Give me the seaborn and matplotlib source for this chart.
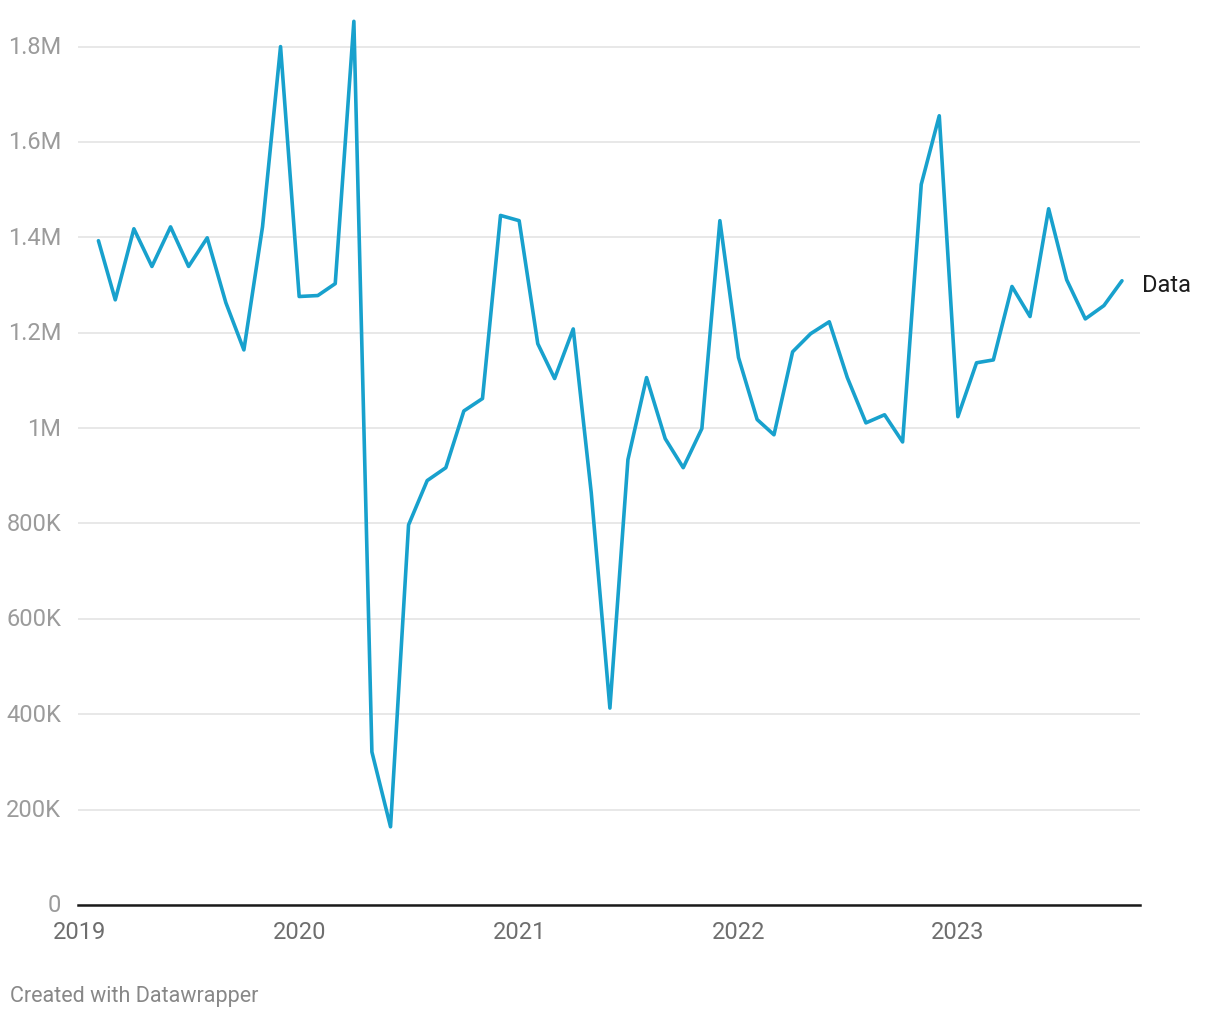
import pandas as pd
import numpy as np
import matplotlib
matplotlib.use('Agg')
import matplotlib.pyplot as plt
import seaborn as sns

# monthly values, Feb 2019 - Oct 2023
months = pd.date_range('2019-02-01', periods=57, freq='MS')
values = [1393000, 1269000, 1418000, 1339000, 1422000, 1339000, 1399000, 1263000, 1164000, 1422000,
          1800000, 1276000, 1278000, 1303000, 1853000, 321000, 164000, 797000, 890000, 917000,
          1036000, 1062000, 1446000, 1435000, 1177000, 1104000, 1208000, 864000, 413000, 934000,
          1106000, 978000, 917000, 999000, 1435000, 1148000, 1018000, 986000, 1160000, 1198000,
          1223000, 1106000, 1011000, 1028000, 971000, 1511000, 1655000, 1024000, 1137000, 1143000,
          1297000, 1234000, 1460000, 1311000, 1229000, 1257000, 1309000]
series_name = 'Data'

y_ticks = [0, 200000, 400000, 600000, 800000, 1000000, 1200000, 1400000, 1600000, 1800000]
y_labels = ['0', '200K', '400K', '600K', '800K', '1M', '1.2M', '1.4M', '1.6M', '1.8M']
x_years = [2019, 2020, 2021, 2022, 2023]

df = pd.DataFrame({'Month': months, 'Value': values})

sns.set_style('white')
plt.rcParams['font.family'] = ['Roboto', 'DejaVu Sans']

fig = plt.figure(figsize=(12.2, 10.2), dpi=100)
ax = fig.add_axes([78 / 1220, 1 - 906 / 1020, (1140 - 78) / 1220, (906 - 19) / 1020])

line_color = '#18a1cd'
sns.lineplot(data=df, x='Month', y='Value', color=line_color, linewidth=2.6, ax=ax)

ax.set_ylim(0, 1860000)
ax.set_xlim(pd.Timestamp('2018-12-29'), pd.Timestamp('2023-10-31'))

ax.set_yticks(y_ticks)
ax.set_yticklabels(y_labels)
ax.set_xticks([pd.Timestamp(f'{y}-01-01') for y in x_years])
ax.set_xticklabels([str(y) for y in x_years])

ax.grid(axis='y', color='#e2e2e2', linewidth=1.1)
ax.grid(axis='x', visible=False)
ax.set_axisbelow(True)

for s in ['top', 'right', 'left']:
    ax.spines[s].set_visible(False)
ax.spines['bottom'].set_color('#1a1a1a')
ax.spines['bottom'].set_linewidth(1.8)

ax.tick_params(axis='y', length=0, pad=12, labelsize=17, labelcolor='#9b9b9b')
ax.tick_params(axis='x', length=0, pad=11, labelsize=17, labelcolor='#6e6e6e')
for lab in ax.get_yticklabels():
    lab.set_verticalalignment('center')

ax.set_xlabel('')
ax.set_ylabel('')

# series label next to the last point
ax.annotate(series_name, xy=(df['Month'].iloc[-1], df['Value'].iloc[-1]),
            xytext=(20, -4), textcoords='offset pixels',
            ha='left', va='center', fontsize=17, color='#1d1d1d', annotation_clip=False)

fig.text(10 / 1220, 1 - 997 / 1020, 'Created with Datawrapper', fontsize=15.5, color='#888888',
         ha='left', va='center')

fig.savefig('out.png', dpi=100, facecolor='white')
